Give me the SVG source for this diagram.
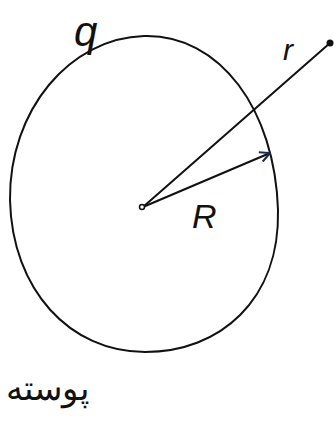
<svg xmlns="http://www.w3.org/2000/svg" width="334" height="429" viewBox="0 0 334 429">
<style>
.ln{fill:none;stroke:#111;stroke-width:2;stroke-linecap:round}
.t{font-family:"Liberation Sans",sans-serif;fill:#111}
</style>
<defs>
<marker id="ah" viewBox="0 0 12 12" refX="11" refY="6" markerWidth="12" markerHeight="12" markerUnits="userSpaceOnUse" orient="auto">
<path d="M1,1 L11,6 L1,11" fill="none" stroke="#1a2a55" stroke-width="2"/>
</marker>
</defs>
<rect width="334" height="429" fill="#fff"/>
<g id="shell">
<path class="ln" d="M144,36 C220,34 275,110 278,210 C280,300 220,352 145,352 C70,352 12,290 10,200 C9,110 70,38 144,36 Z"/>
</g>
<g id="connectors">
<line class="ln" x1="143" y1="207" x2="330" y2="43"/>
<line class="ln" x1="143" y1="207" x2="270" y2="153" stroke="#1a2a55" marker-end="url(#ah)"/>
</g>
<g id="center"><circle cx="142" cy="207" r="2.5" fill="#fff" stroke="#111" stroke-width="1.5"/></g>
<g id="point"><circle cx="330" cy="43" r="3.5" fill="#111"/></g>
<text class="t" x="283" y="60" font-size="30" font-style="italic">r</text>
<text class="t" x="192" y="228" font-size="34" font-style="italic">R</text>
<text class="t" x="74" y="46" font-size="42" font-style="italic">q</text>
<text x="6" y="400" font-size="34" font-family="'Noto Sans',sans-serif" fill="#111">پوسته</text>
</svg>
